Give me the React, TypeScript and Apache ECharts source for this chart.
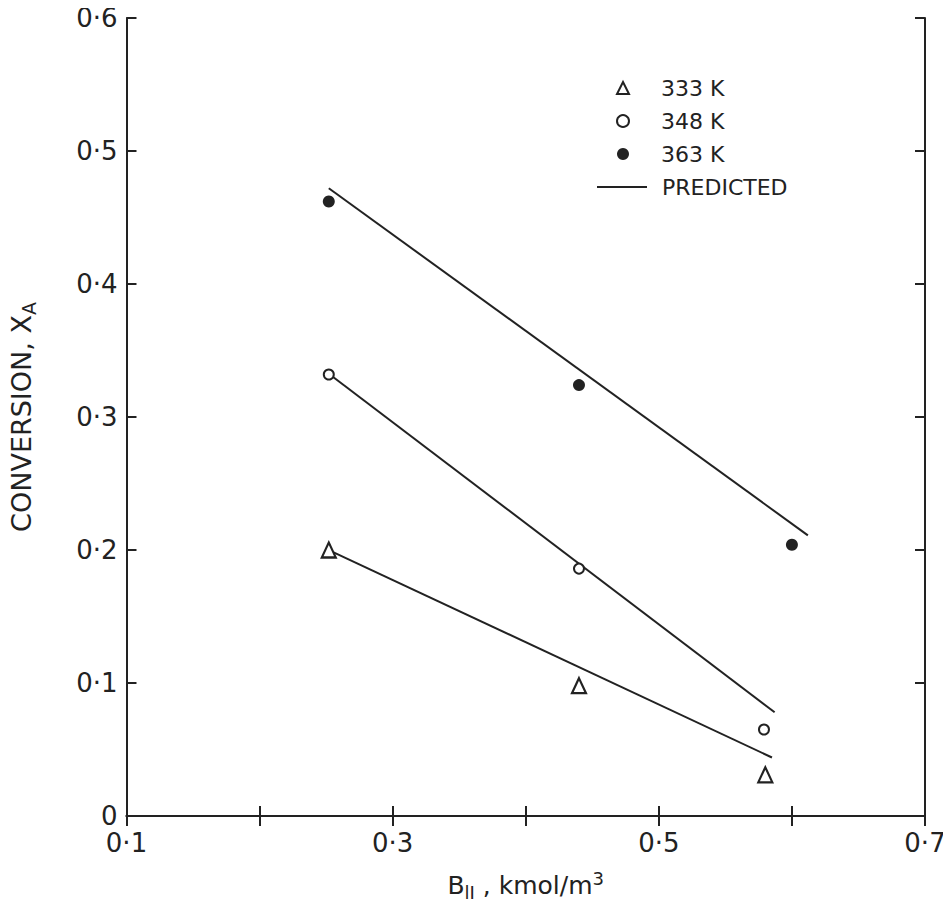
import React, { useEffect, useRef } from "react";
import * as echarts from "echarts";

const xTicks = [0.1, 0.2, 0.3, 0.4, 0.5, 0.6, 0.7];
const xLabelled = [0.1, 0.3, 0.5, 0.7];
const yTicks = [0, 0.1, 0.2, 0.3, 0.4, 0.5, 0.6];

const names = ["333 K", "348 K", "363 K", "PREDICTED"];

const obs333 = [
  [0.252, 0.2],
  [0.44, 0.098],
  [0.58, 0.031],
];
const obs348 = [
  [0.252, 0.332],
  [0.44, 0.186],
  [0.579, 0.065],
];
const obs363 = [
  [0.252, 0.462],
  [0.44, 0.324],
  [0.6, 0.204],
];

const pred333 = [
  [0.254, 0.199],
  [0.585, 0.044],
];
const pred348 = [
  [0.254, 0.331],
  [0.587, 0.078],
];
const pred363 = [
  [0.252, 0.472],
  [0.612, 0.211],
];

const FONT = "DejaVu Sans";
const INK = "#222";

function fmt(v: number): string {
  const t = Math.round(v * 10);
  if (t === 0) return "0";
  return "0·" + t;
}

export default function App() {
  const ref = useRef<HTMLDivElement>(null);
  useEffect(() => {
    if (!ref.current) return;
    const chart = echarts.init(ref.current, null, { renderer: "svg" });
    const tickStyle = { inside: true, length: 10, lineStyle: { color: INK, width: 2 } };
    const lineStyle = { show: true, lineStyle: { color: INK, width: 2 } };
    const predLine = (data: number[][]) => ({
      type: "line",
      name: names[3],
      data,
      symbol: "none",
      lineStyle: { color: INK, width: 2 },
      itemStyle: { color: INK },
      z: 2,
    });
    const legendText = { fontFamily: FONT, fontSize: 22, color: INK, lineHeight: 22 };
    chart.setOption({
      animation: false,
      backgroundColor: "#fff",
      textStyle: { fontFamily: FONT, color: INK },
      grid: { left: 125, right: 26, top: 18, bottom: 97, containLabel: false },
      legend: [
        {
          orient: "vertical",
          left: 611,
          top: 72,
          itemWidth: 12,
          itemHeight: 12,
          itemGap: 11,
          textStyle: { ...legendText, padding: [0, 0, 0, 27] },
          data: [
            {
              name: names[0],
              icon: "triangle",
              itemStyle: { color: "#fff", borderColor: INK, borderWidth: 2, opacity: 1 },
            },
            {
              name: names[1],
              icon: "circle",
              itemStyle: { color: "#fff", borderColor: INK, borderWidth: 2, opacity: 1 },
            },
            {
              name: names[2],
              icon: "circle",
              itemStyle: { color: INK, borderWidth: 0, opacity: 1 },
            },
          ],
        },
        {
          orient: "vertical",
          left: 592,
          top: 171,
          itemWidth: 50,
          itemHeight: 2,
          textStyle: { ...legendText, padding: [0, 0, 0, 10] },
          data: [{ name: names[3], icon: "rect", itemStyle: { color: INK, opacity: 1 } }],
        },
      ],
      xAxis: [
        {
          type: "value",
          position: "bottom",
          min: 0.1,
          max: 0.7,
          interval: 0.1,
          axisLine: lineStyle,
          axisTick: tickStyle,
          splitLine: { show: false },
          axisLabel: {
            margin: 14,
            fontSize: 26,
            fontFamily: FONT,
            color: INK,
            formatter: (v: number) =>
              xLabelled.some((t) => Math.abs(t - v) < 1e-6) ? fmt(v) : "",
          },
          name: "{a|B}{s|lI}{a| , kmol/m}{p|3}",
          nameLocation: "middle",
          nameGap: 53,
          nameTextStyle: {
            rich: {
              a: { fontSize: 25, fontFamily: FONT, color: INK, lineHeight: 32 },
              s: { fontSize: 18, fontFamily: FONT, color: INK, lineHeight: 18, verticalAlign: "bottom" },
              p: { fontSize: 18, fontFamily: FONT, color: INK, lineHeight: 18, verticalAlign: "top" },
            },
          },
        },
        {
          type: "value",
          position: "top",
          min: 0.1,
          max: 0.7,
          interval: 0.1,
          axisLine: lineStyle,
          axisTick: tickStyle,
          axisLabel: { show: false },
          splitLine: { show: false },
        },
      ],
      yAxis: [
        {
          type: "value",
          position: "left",
          min: 0,
          max: 0.6,
          interval: 0.1,
          axisLine: lineStyle,
          axisTick: tickStyle,
          splitLine: { show: false },
          axisLabel: {
            margin: 9,
            fontSize: 26,
            fontFamily: FONT,
            color: INK,
            formatter: (v: number) => fmt(v),
          },
          name: "{a|CONVERSION, X}{s|A}",
          nameLocation: "middle",
          nameGap: 88,
          nameRotate: 90,
          nameTextStyle: {
            rich: {
              a: { fontSize: 27, fontFamily: FONT, color: INK, lineHeight: 34 },
              s: { fontSize: 19, fontFamily: FONT, color: INK, lineHeight: 20, verticalAlign: "bottom" },
            },
          },
        },
        {
          type: "value",
          position: "right",
          min: 0,
          max: 0.6,
          interval: 0.1,
          axisLine: lineStyle,
          axisTick: tickStyle,
          axisLabel: { show: false },
          splitLine: { show: false },
        },
      ],
      series: [
        predLine(pred333),
        predLine(pred348),
        predLine(pred363),
        {
          type: "scatter",
          name: names[0],
          data: obs333,
          symbol: "triangle",
          symbolSize: [14, 15],
          itemStyle: { color: "#fff", borderColor: INK, borderWidth: 2.2, opacity: 1 },
          z: 5,
        },
        {
          type: "scatter",
          name: names[1],
          data: obs348,
          symbol: "circle",
          symbolSize: 10,
          itemStyle: { color: "#fff", borderColor: INK, borderWidth: 2, opacity: 1 },
          z: 5,
        },
        {
          type: "scatter",
          name: names[2],
          data: obs363,
          symbol: "circle",
          symbolSize: 12,
          itemStyle: { color: INK, borderColor: INK, borderWidth: 0, opacity: 1 },
          z: 5,
        },
      ],
    });
    return () => chart.dispose();
  }, []);
  return <div ref={ref} style={{ width: 951, height: 913, margin: -8 }} />;
}
